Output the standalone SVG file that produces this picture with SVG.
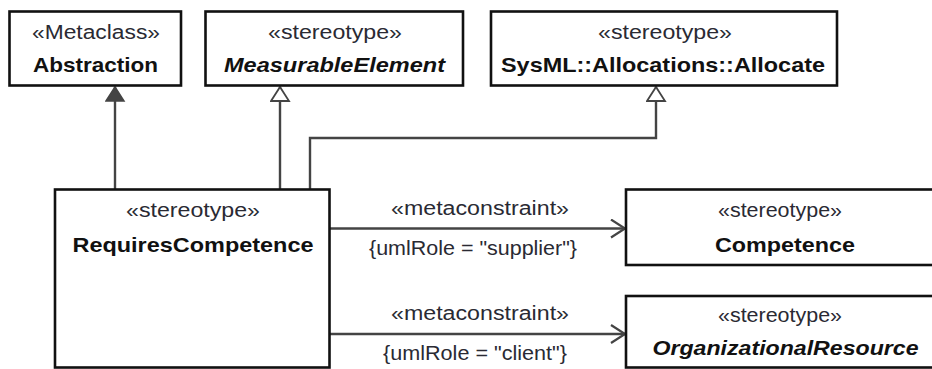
<svg xmlns="http://www.w3.org/2000/svg" width="932" height="369" viewBox="0 0 932 369">
<style>
.box{fill:#fff;stroke:#111;stroke-width:2.6}
.st{font-family:"Liberation Sans",Arial,sans-serif;font-size:19.5px;fill:#2a2a33;text-anchor:middle}
.nm{font-family:"Liberation Sans",Arial,sans-serif;font-size:20.5px;font-weight:bold;fill:#111;text-anchor:middle}
.it{font-style:italic}
.lbl{font-family:"Liberation Sans",Arial,sans-serif;font-size:19.5px;fill:#2a2a33;text-anchor:middle}
.ln{fill:none;stroke:#444;stroke-width:2.4}
</style>
<defs>
<marker id="filled" markerWidth="22" markerHeight="22" viewBox="0 0 22 22" refX="15" refY="10" orient="auto" markerUnits="userSpaceOnUse">
<path d="M1,1 L15,10 L1,19 Z" fill="#444" stroke="#444" stroke-width="1.5"/>
</marker>
<marker id="hollow" markerWidth="22" markerHeight="22" viewBox="0 0 22 22" refX="15" refY="10" orient="auto" markerUnits="userSpaceOnUse">
<path d="M1,1 L15,10 L1,19 Z" fill="#fff" stroke="#444" stroke-width="1.8"/>
</marker>
<marker id="open" markerWidth="22" markerHeight="22" viewBox="0 0 22 22" refX="15" refY="10" orient="auto" markerUnits="userSpaceOnUse">
<path d="M1,1 L15,10 L1,19" fill="none" stroke="#444" stroke-width="2.2"/>
</marker>
</defs>
<g id="connectors">
<path class="ln" d="M115,189 L115,87" marker-end="url(#filled)"/>
<path class="ln" d="M280,189 L280,87" marker-end="url(#hollow)"/>
<path class="ln" d="M310,189 L310,138 L656,138 L656,87" marker-end="url(#hollow)"/>
<path class="ln" d="M330,228.5 L625,228.5" marker-end="url(#open)"/>
<path class="ln" d="M330,334 L625,334" marker-end="url(#open)"/>
<text class="lbl" x="480" y="214.5" textLength="178" lengthAdjust="spacingAndGlyphs">«metaconstraint»</text>
<text class="lbl" x="473" y="254.5" textLength="208" lengthAdjust="spacingAndGlyphs">{umlRole = "supplier"}</text>
<text class="lbl" x="480" y="319.5" textLength="178" lengthAdjust="spacingAndGlyphs">«metaconstraint»</text>
<text class="lbl" x="475" y="360" textLength="184" lengthAdjust="spacingAndGlyphs">{umlRole = "client"}</text>
</g>
<g id="abstraction">
<rect class="box" x="9.5" y="11.5" width="171.5" height="74"/>
<text class="st" x="96" y="38.5" textLength="128" lengthAdjust="spacingAndGlyphs">«Metaclass»</text>
<text class="nm" x="95.5" y="72" textLength="125" lengthAdjust="spacingAndGlyphs">Abstraction</text>
</g>
<g id="measurableElement">
<rect class="box" x="205.5" y="11.5" width="257.5" height="74"/>
<text class="st" x="335" y="38.5" textLength="134" lengthAdjust="spacingAndGlyphs">«stereotype»</text>
<text class="nm it" x="334.5" y="72" textLength="221" lengthAdjust="spacingAndGlyphs">MeasurableElement</text>
</g>
<g id="allocate">
<rect class="box" x="491" y="11.5" width="346" height="74"/>
<text class="st" x="665" y="38.5" textLength="134" lengthAdjust="spacingAndGlyphs">«stereotype»</text>
<text class="nm" x="663" y="72" textLength="324" lengthAdjust="spacingAndGlyphs">SysML::Allocations::Allocate</text>
</g>
<g id="requiresCompetence">
<rect class="box" x="55" y="189.5" width="274.5" height="178"/>
<text class="st" x="193" y="216.5" textLength="134" lengthAdjust="spacingAndGlyphs">«stereotype»</text>
<text class="nm" x="193" y="251.5" textLength="241" lengthAdjust="spacingAndGlyphs">RequiresCompetence</text>
</g>
<g id="competence">
<rect class="box" x="626" y="189.5" width="320" height="75.5"/>
<text class="st" x="780" y="216.5" textLength="124" lengthAdjust="spacingAndGlyphs">«stereotype»</text>
<text class="nm" x="785" y="251.5" textLength="140" lengthAdjust="spacingAndGlyphs">Competence</text>
</g>
<g id="organizationalResource">
<rect class="box" x="626" y="296" width="320" height="71.5"/>
<text class="st" x="780" y="321.5" textLength="124" lengthAdjust="spacingAndGlyphs">«stereotype»</text>
<text class="nm it" x="785.5" y="355" textLength="266" lengthAdjust="spacingAndGlyphs">OrganizationalResource</text>
</g>
</svg>
